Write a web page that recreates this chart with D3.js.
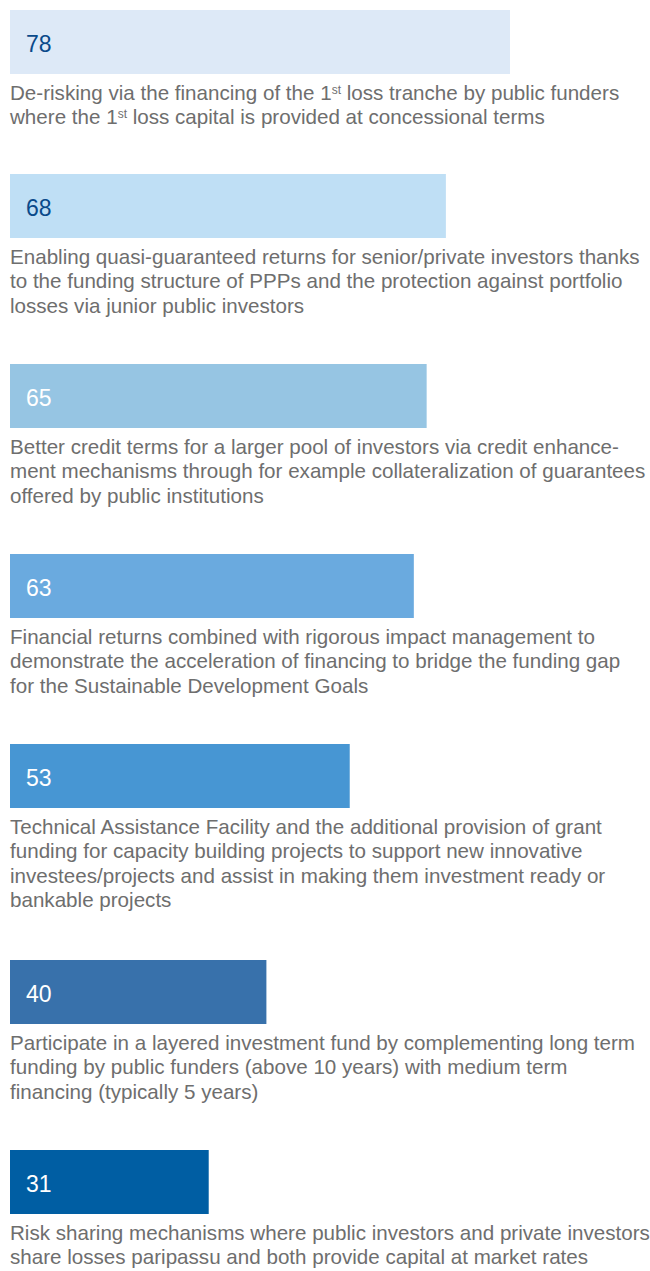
<!DOCTYPE html>
<html>
<head>
<meta charset="utf-8">
<script src="https://cdn.jsdelivr.net/npm/d3@7"></script>
<style>
  html, body { margin: 0; padding: 0; background: #fff; }
  svg { display: block; }
</style>
</head>
<body>
<svg id="chart" width="650" height="1271"></svg>
<script>
const values = [78, 68, 65, 63, 53, 40, 31];
const barColors = ["#dde9f7", "#bfdff5", "#96c5e3", "#6aaadf", "#4796d3", "#3871ab", "#005ea3"];
const numberColors = ["#0a4a8a", "#0a4a8a", "#ffffff", "#ffffff", "#ffffff", "#ffffff", "#ffffff"];
const labels = [
  ["De-risking via the financing of the 1^st loss tranche by public funders",
   "where the 1^st loss capital is provided at concessional terms"],
  ["Enabling quasi-guaranteed returns for senior/private investors thanks",
   "to the funding structure of PPPs and the protection against portfolio",
   "losses via junior public investors"],
  ["Better credit terms for a larger pool of investors via credit enhance-",
   "ment mechanisms through for example collateralization of guarantees",
   "offered by public institutions"],
  ["Financial returns combined with rigorous impact management to",
   "demonstrate the acceleration of financing to bridge the funding gap",
   "for the Sustainable Development Goals"],
  ["Technical Assistance Facility and the additional provision of grant",
   "funding for capacity building projects to support new innovative",
   "investees/projects and assist in making them investment ready or",
   "bankable projects"],
  ["Participate in a layered investment fund by complementing long term",
   "funding by public funders (above 10 years) with medium term",
   "financing (typically 5 years)"],
  ["Risk sharing mechanisms where public investors and private investors",
   "share losses paripassu and both provide capital at market rates"]
];

const svg = d3.select("#chart");
const x = d3.scaleLinear().domain([0, 100]).range([10, 651]);

const barH = 64;
const lineH = 24.3;
const tops = [];
let yCur = 10;
labels.forEach((l, i) => { tops.push(yCur); yCur += 112 + 26 * l.length; });

const g = svg.selectAll("g.item").data(values).join("g").attr("class", "item")
  .attr("transform", (d, i) => `translate(0,${tops[i]})`);

g.append("rect")
  .attr("x", x(0)).attr("y", 0)
  .attr("width", d => x(d) - x(0)).attr("height", barH)
  .attr("fill", (d, i) => barColors[i]);

g.append("text")
  .attr("x", 26).attr("y", 42)
  .attr("font-family", "'Liberation Sans', Arial, sans-serif")
  .attr("font-size", 23)
  .attr("fill", (d, i) => numberColors[i])
  .text(d => d);

const fs = 20.6;
g.each(function(d, i) {
  const t = d3.select(this).append("text")
    .attr("font-family", "'Liberation Sans', Arial, sans-serif")
    .attr("font-size", fs)
    .attr("fill", "#6e6e6e");
  labels[i].forEach((line, j) => {
    const parts = line.split(/(\^st)/);
    const y = barH + 26 + j * lineH;
    parts.forEach((p, k) => {
      if (p === "^st") {
        t.append("tspan").attr("font-size", 12).attr("baseline-shift", "6").text("st");
      } else {
        const ts = t.append("tspan").text(p);
        if (k === 0) ts.attr("x", 10).attr("y", y);
      }
    });
  });
});
</script>
</body>
</html>
